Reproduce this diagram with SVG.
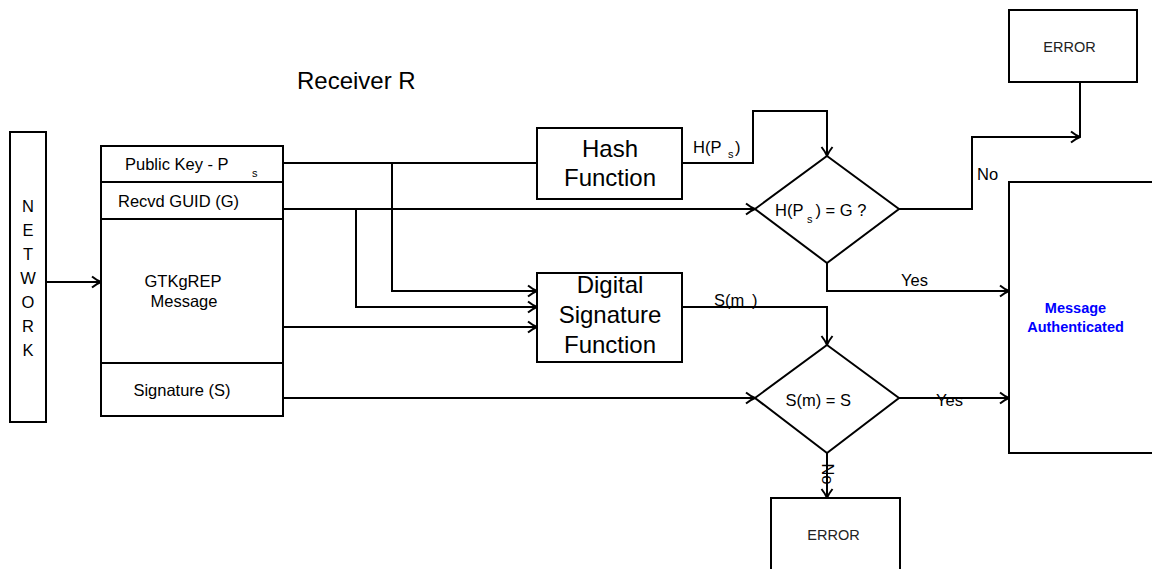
<svg xmlns="http://www.w3.org/2000/svg" width="1152" height="569" viewBox="0 0 1152 569">
  <style>
    .box { fill: #ffffff; stroke: #000000; stroke-width: 2; }
    .wire { fill: none; stroke: #000000; stroke-width: 2; }
    .t { font-family: "Liberation Sans", Arial, sans-serif; fill: #000000; }
    .sm { font-size: 16.5px; }
    .big { font-size: 24px; }
    .err { font-size: 14.5px; fill: #222222; }
    .sub { font-size: 11px; }
    .auth { font-family: "Liberation Sans", Arial, sans-serif; font-size: 14.5px; font-weight: bold; fill: #0000ff; }
    .mid { text-anchor: middle; }
  </style>
  <defs>
    <marker id="arrow" markerWidth="12" markerHeight="14" viewBox="-11 -7 12 14" refX="0" refY="0" orient="auto" markerUnits="userSpaceOnUse">
      <path d="M-9,-5.5 Q-4,-1.5 0,0 Q-4,1.5 -9,5.5" fill="none" stroke="#000000" stroke-width="2"/>
    </marker>
  </defs>
  <rect width="1152" height="569" fill="#ffffff"/>

  <text class="t" x="297" y="89" font-size="24">Receiver R</text>

  <!-- Connectors -->
  <g id="connectors">
    <path class="wire" d="M46,282 H101" marker-end="url(#arrow)"/>
    <path class="wire" d="M283,163 H537"/>
    <path class="wire" d="M392,163 V291 H537" marker-end="url(#arrow)"/>
    <path class="wire" d="M283,209 H755" marker-end="url(#arrow)"/>
    <path class="wire" d="M356,209 V307 H537" marker-end="url(#arrow)"/>
    <path class="wire" d="M283,327 H537" marker-end="url(#arrow)"/>
    <path class="wire" d="M283,398 H755" marker-end="url(#arrow)"/>
    <path class="wire" d="M682,163 H753 V111 H827 V156" marker-end="url(#arrow)"/>
    <path class="wire" d="M899,209 H972 V137 H1080" marker-end="url(#arrow)"/>
    <path class="wire" d="M1080,82 V137"/>
    <path class="wire" d="M827,263 V291 H1009" marker-end="url(#arrow)"/>
    <path class="wire" d="M682,307 H827 V345" marker-end="url(#arrow)"/>
    <path class="wire" d="M899,398 H1009" marker-end="url(#arrow)"/>
    <path class="wire" d="M827,453 V498" marker-end="url(#arrow)"/>
    <!-- connector labels -->
    <text class="t sm" x="693" y="153">H(P</text>
    <text class="t sub" x="728" y="158">s</text>
    <text class="t sm" x="735" y="153">)</text>
    <text class="t sm" x="714" y="306">S(m<tspan x="752">)</tspan></text>
    <text class="t sm" x="977" y="180">No</text>
    <text class="t sm" x="901" y="286">Yes</text>
    <text class="t sm" x="936" y="406">Yes</text>
    <text class="t sm mid" transform="translate(828,474) rotate(90)" x="0" y="6">No</text>
  </g>

  <!-- Network -->
  <g id="network">
    <rect class="box" x="10" y="132" width="36" height="290"/>
    <text class="t sm mid" x="28" y="212">N</text>
    <text class="t sm mid" x="28" y="236">E</text>
    <text class="t sm mid" x="28" y="260">T</text>
    <text class="t sm mid" x="28" y="284">W</text>
    <text class="t sm mid" x="28" y="308">O</text>
    <text class="t sm mid" x="28" y="332">R</text>
    <text class="t sm mid" x="28" y="356">K</text>
  </g>

  <!-- Received message fields -->
  <g id="message">
    <rect class="box" x="101" y="146" width="182" height="270"/>
    <path class="wire" d="M101,182 H283 M101,219 H283 M101,363 H283"/>
    <text class="t sm" x="125" y="170">Public Key - P</text>
    <text class="t sub" x="252" y="177">s</text>
    <text class="t sm" x="118" y="207">Recvd GUID (G)</text>
    <text class="t sm mid" x="183" y="287">GTKgREP</text>
    <text class="t sm mid" x="184" y="307">Message</text>
    <text class="t sm mid" x="182" y="396">Signature (S)</text>
  </g>

  <!-- Hash function -->
  <g id="hash">
    <rect class="box" x="537" y="128" width="145" height="71"/>
    <text class="t big mid" x="610" y="157">Hash</text>
    <text class="t big mid" x="610" y="186">Function</text>
  </g>

  <!-- Digital signature function -->
  <g id="signature">
    <rect class="box" x="537" y="273" width="145" height="89"/>
    <text class="t big mid" x="610" y="293">Digital</text>
    <text class="t big mid" x="610" y="323">Signature</text>
    <text class="t big mid" x="610" y="353">Function</text>
  </g>

  <!-- Decision: hash vs GUID -->
  <g id="check-guid">
    <polygon class="box" points="827,156 899,209 827,263 755,209"/>
    <text class="t sm" x="775" y="215.5">H(P</text>
    <text class="t sub" x="807" y="222.5">s</text>
    <text class="t sm" x="815.5" y="215.5">) = G ?</text>
  </g>

  <!-- Decision: signature check -->
  <g id="check-sig">
    <polygon class="box" points="827,345 899,398 827,453 755,398"/>
    <text class="t sm" x="785.5" y="406">S(m) = S</text>
  </g>

  <!-- Error outcomes -->
  <g id="error-top">
    <rect class="box" x="1009" y="10" width="128" height="72"/>
    <text class="t err mid" x="1069.5" y="52">ERROR</text>
  </g>
  <g id="error-bottom">
    <rect class="box" x="771" y="498" width="129" height="90"/>
    <text class="t err mid" x="833.5" y="540">ERROR</text>
  </g>

  <!-- Success outcome -->
  <g id="authenticated">
    <rect class="box" x="1009" y="182" width="160" height="271"/>
    <text class="auth mid" x="1075.5" y="313">Message</text>
    <text class="auth mid" x="1075.5" y="332">Authenticated</text>
  </g>
</svg>
